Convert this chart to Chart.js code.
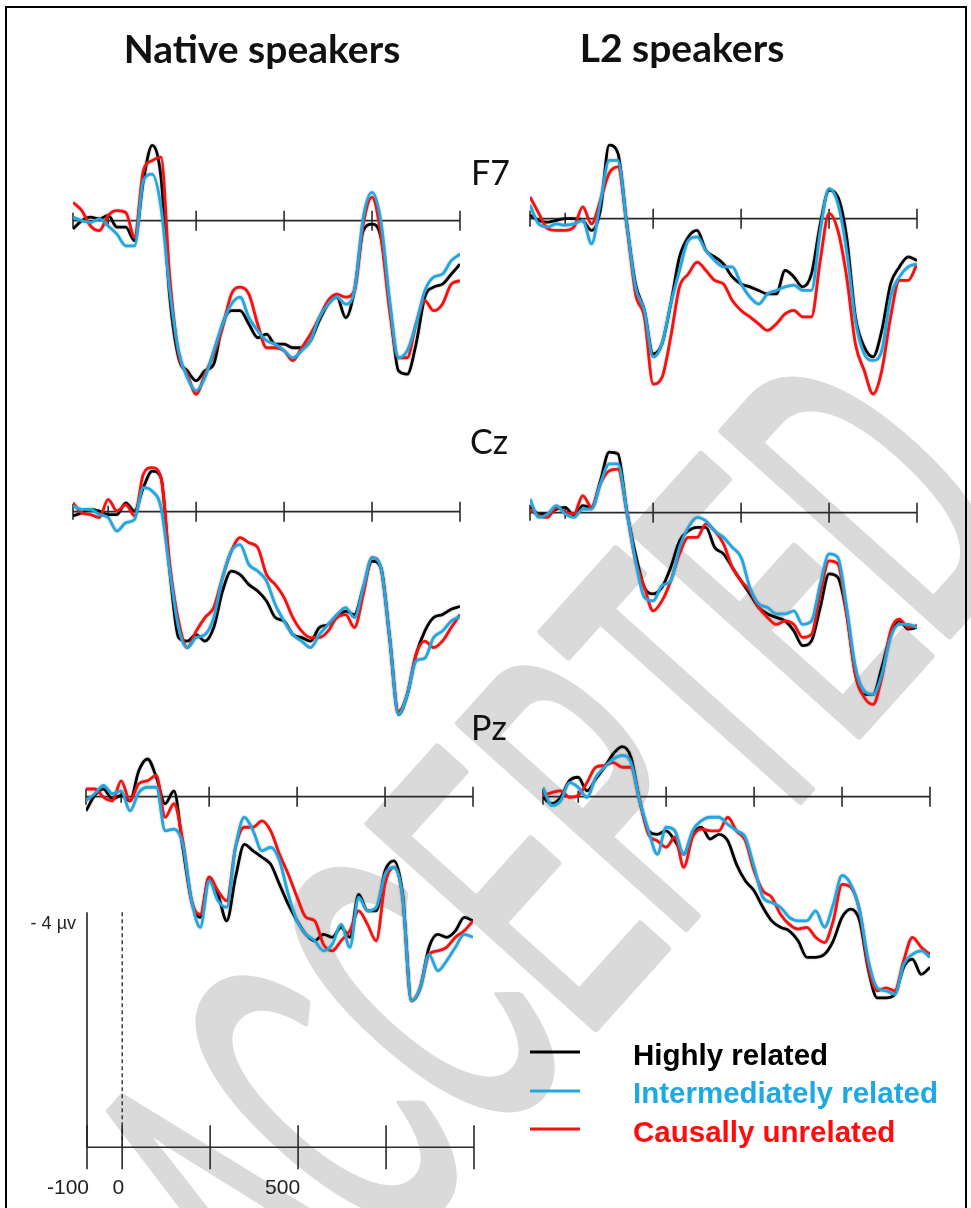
<!DOCTYPE html>
<html>
<head>
<meta charset="utf-8">
<script src="https://cdn.jsdelivr.net/npm/chart.js@4.4.1/dist/chart.umd.min.js"></script>
<style>
  html, body { margin: 0; padding: 0; background: #fff; }
  #page { position: relative; width: 971px; height: 1208px; overflow: hidden; background: #fff; }
  #frame { position: absolute; left: 5px; top: 6px; width: 962px; height: 1220px; border: 2px solid #000; box-sizing: border-box; z-index: 4; }
  svg.layer { position: absolute; left: 0; top: 0; }
  #mark { z-index: 0; }
  #labels { z-index: 3; }
  canvas { position: absolute; z-index: 2; }
  .ttl { font-family: Lato, sans-serif; font-weight: 700; font-size: 39px; fill: #111; }
  .elec { font-family: Lato, sans-serif; font-size: 34px; fill: #111; }
  .leg { font-family: "Liberation Sans", Arial, sans-serif; font-weight: 700; font-size: 29.5px; }
</style>
</head>
<body>
<div id="page">
  <svg id="mark" class="layer" width="971" height="1208">
    <text transform="translate(548,843) rotate(-48) scale(0.46,1)" x="0" y="158" text-anchor="middle"
          font-family="Liberation Sans" font-size="440" fill="#dadada" stroke="#dadada" stroke-width="8"
          stroke-linejoin="round" vector-effect="non-scaling-stroke">ACCEPTED</text>
  </svg>
  <svg id="labels" class="layer" width="971" height="1208"></svg>
  <div id="frame"></div>
</div>
<script>
// time points (ms)
const times = [-100, -75, -50, -25, 0, 25, 50, 75, 100, 125, 150, 175, 200, 225, 250, 275, 300, 325, 350, 375,
  400, 425, 450, 475, 500, 525, 550, 575, 600, 625, 650, 675, 700, 725, 750, 775, 800, 825, 850, 875,
  900, 925, 950, 975, 1000];

// amplitudes in microvolts (negative plotted up)
const nativeF7Highly = [0.14, 0, -0.06, -0.03, -0.09, 0.11, 0.11, 0.34, -0.68, -1.28, -0.74, 1.30, 2.33, 2.55, 2.72, 2.55, 2.44, 1.76, 1.53, 1.53, 1.76, 1.99, 1.93, 2.10, 2.10, 2.16, 2.16, 2.04, 1.70, 1.42, 1.30, 1.65, 1.19, 0.17, 0.06, 0.28, 1.42, 2.55, 2.61, 2.10, 1.30, 1.13, 1.08, 0.91, 0.74];
const nativeF7Inter = [-0.06, 0, 0.03, -0.03, 0.09, 0.23, 0.43, 0.43, -0.68, -0.79, -0.23, 1.19, 2.21, 2.67, 2.89, 2.67, 2.21, 1.76, 1.42, 1.30, 1.65, 1.87, 2.04, 2.10, 2.21, 2.33, 2.21, 2.04, 1.65, 1.42, 1.30, 1.42, 1.19, -0.06, -0.48, 0, 1.36, 2.33, 2.21, 1.76, 1.19, 0.96, 0.91, 0.68, 0.57];
const nativeF7Causal = [-0.31, -0.17, 0.09, 0.17, -0.09, -0.17, -0.14, 0.28, -0.85, -1.02, -1.08, 0.96, 2.27, 2.61, 2.95, 2.61, 2.27, 1.82, 1.25, 1.13, 1.25, 1.76, 2.16, 2.16, 2.21, 2.38, 2.16, 1.93, 1.65, 1.36, 1.25, 1.30, 1.19, 0.06, -0.40, 0.23, 1.53, 2.33, 2.33, 1.76, 1.36, 1.53, 1.42, 1.08, 1.02];

const l2F7Highly = [-0.06, 0.03, 0.06, 0.03, 0, 0, 0.03, 0.20, -0.14, -1.25, -1.11, 0.09, 1.11, 1.56, 2.30, 2.13, 1.45, 0.65, 0.31, 0.20, 0.54, 0.65, 0.77, 0.99, 1.11, 1.16, 1.22, 1.28, 1.28, 0.88, 0.99, 1.16, 0.94, 0.09, -0.48, -0.37, 0.31, 1.67, 2.18, 2.35, 1.90, 1.11, 0.82, 0.65, 0.71];
const l2F7Inter = [-0.23, 0.09, 0.14, 0.09, 0.11, 0.09, 0.03, 0.43, -0.28, -0.99, -0.99, 0.09, 1.16, 1.56, 2.35, 2.13, 1.45, 0.88, 0.37, 0.31, 0.54, 0.71, 0.82, 0.82, 1.11, 1.33, 1.45, 1.28, 1.22, 1.16, 1.13, 1.22, 1.22, 0.20, -0.51, -0.26, 0.54, 1.73, 2.30, 2.41, 2.24, 1.33, 0.99, 0.82, 0.77];
const l2F7Causal = [-0.37, -0.09, 0.17, 0.20, 0.20, 0.14, -0.20, 0.09, -0.31, -0.77, -0.88, 0.09, 1.28, 1.67, 2.81, 2.70, 2.01, 1.16, 0.94, 0.74, 0.88, 1.05, 1.11, 1.39, 1.56, 1.67, 1.79, 1.90, 1.79, 1.62, 1.56, 1.67, 1.67, 0.71, -0.09, 0.20, 0.99, 2.13, 2.58, 2.98, 2.58, 1.67, 1.05, 1.05, 0.77];

const nativeCzHighly = [0.07, 0.02, -0.04, -0.01, 0.05, 0.05, -0.15, -0.01, -0.41, -0.69, -0.58, 1.01, 2.14, 2.20, 2.09, 2.20, 1.97, 1.35, 1.01, 1.07, 1.24, 1.35, 1.52, 1.80, 1.86, 2.09, 2.14, 2.20, 1.97, 1.92, 1.80, 1.69, 1.75, 1.29, 0.84, 0.95, 2.14, 3.45, 3.11, 2.43, 2.03, 1.80, 1.75, 1.66, 1.61];
const nativeCzInter = [-0.10, -0.04, -0.04, 0.05, 0.10, 0.33, 0.19, 0.13, -0.41, -0.35, -0.07, 1.01, 1.97, 2.31, 2.14, 2.09, 1.80, 1.12, 0.67, 0.56, 0.90, 1.01, 1.18, 1.58, 1.86, 2.09, 2.20, 2.31, 2.09, 1.92, 1.75, 1.63, 1.80, 1.29, 0.78, 0.95, 2.14, 3.45, 3.11, 2.54, 2.49, 2.14, 2.03, 1.86, 1.78];
const nativeCzCausal = [-0.15, 0.02, 0.05, 0.10, -0.21, -0.01, -0.12, 0.07, -0.64, -0.75, -0.58, 0.90, 1.86, 2.31, 2.03, 1.80, 1.63, 1.12, 0.67, 0.44, 0.53, 0.61, 1.07, 1.24, 1.46, 1.80, 2.03, 2.14, 2.14, 2.03, 1.80, 1.75, 1.97, 1.41, 0.78, 0.95, 2.14, 3.39, 3.11, 2.43, 2.20, 2.31, 2.20, 1.97, 1.75];

const l2CzHighly = [-0.09, 0.02, 0.02, -0.06, -0.09, 0.05, -0.12, -0.09, -0.54, -1.03, -1.00, -0.03, 0.70, 1.27, 1.38, 1.27, 0.93, 0.48, 0.31, 0.25, 0.25, 0.59, 0.70, 0.93, 1.16, 1.38, 1.61, 1.72, 1.78, 1.84, 2.01, 2.26, 2.18, 1.61, 1.04, 1.10, 1.72, 2.75, 3.09, 3.09, 2.63, 2.07, 1.84, 1.98, 1.95];
const l2CzInter = [-0.23, 0.08, 0.02, -0.12, 0.02, 0.08, -0.06, -0.06, -0.49, -0.83, -0.83, -0.03, 0.82, 1.44, 1.50, 1.24, 1.16, 0.59, 0.25, 0.08, 0.14, 0.31, 0.42, 0.59, 0.76, 1.27, 1.55, 1.61, 1.72, 1.72, 1.67, 1.90, 1.84, 1.21, 0.70, 0.76, 1.61, 2.63, 3.03, 3.09, 2.75, 2.12, 1.90, 1.90, 1.95];
const l2CzCausal = [-0.06, 0.05, 0.08, -0.09, -0.01, 0.02, -0.29, -0.09, -0.49, -0.71, -0.74, -0.03, 0.82, 1.27, 1.67, 1.50, 1.16, 0.70, 0.42, 0.42, 0.19, 0.31, 0.53, 0.93, 1.16, 1.33, 1.61, 1.78, 1.90, 1.84, 1.90, 2.12, 2.07, 1.38, 0.82, 0.87, 1.72, 2.75, 3.14, 3.26, 2.80, 2.01, 1.81, 1.95, 1.92];

const nativePzHighly = [0.24, -0.02, -0.13, 0.04, -0.02, 0.07, -0.44, -0.64, -0.33, 0.12, -0.10, 0.86, 1.77, 2.05, 1.37, 1.66, 2.11, 1.37, 0.81, 0.92, 1.03, 1.15, 1.49, 1.83, 2.11, 2.34, 2.45, 2.34, 2.39, 2.22, 2.39, 1.66, 1.94, 1.94, 1.26, 1.09, 1.66, 3.47, 3.25, 2.56, 2.34, 2.39, 2.28, 2.05, 2.11];
const nativePzInter = [0.07, -0.05, -0.19, -0.05, -0.10, 0.24, -0.07, -0.16, -0.16, 0.58, 0.55, 0.81, 1.77, 2.22, 1.43, 1.77, 1.88, 0.86, 0.35, 0.58, 0.92, 0.86, 1.09, 1.66, 2.11, 2.34, 2.45, 2.62, 2.51, 2.17, 2.56, 1.71, 1.94, 1.88, 1.32, 1.20, 1.71, 3.47, 3.25, 2.68, 2.96, 2.79, 2.56, 2.34, 2.39];
const nativePzCausal = [-0.13, -0.13, 0.01, 0.07, -0.27, 0.07, -0.22, -0.27, -0.36, 0.35, 0.12, 0.75, 1.77, 2.00, 1.37, 1.60, 1.77, 0.86, 0.52, 0.52, 0.41, 0.58, 0.98, 1.32, 1.71, 2.05, 2.11, 2.51, 2.62, 2.45, 2.28, 1.94, 2.17, 2.45, 1.48, 1.20, 1.71, 3.47, 3.25, 2.68, 2.62, 2.56, 2.39, 2.28, 2.11];

const l2PzHighly = [0.01, 0.12, 0.01, -0.27, -0.33, -0.10, -0.30, -0.50, -0.73, -0.85, -0.67, 0.07, 0.58, 0.64, 0.58, 0.75, 0.98, 0.64, 0.52, 0.72, 0.64, 0.75, 1.15, 1.43, 1.60, 1.88, 2.11, 2.22, 2.28, 2.45, 2.73, 2.73, 2.68, 2.45, 2.05, 1.91, 2.11, 2.95, 3.42, 3.42, 3.36, 2.90, 2.76, 3.02, 2.90];
const l2PzInter = [-0.16, 0.15, 0.07, -0.24, -0.16, 0.01, -0.33, -0.50, -0.64, -0.70, -0.58, 0.07, 0.58, 0.98, 0.52, 0.58, 0.98, 0.58, 0.41, 0.35, 0.35, 0.47, 0.58, 0.69, 1.19, 1.71, 1.80, 1.88, 2.05, 2.11, 2.11, 1.94, 2.22, 1.83, 1.34, 1.49, 1.94, 2.79, 3.25, 3.30, 3.36, 2.85, 2.68, 2.62, 2.73];
const l2PzCausal = [-0.02, -0.07, -0.10, 0.01, -0.02, -0.24, -0.50, -0.53, -0.58, -0.50, -0.50, 0.07, 0.64, 0.75, 0.86, 0.69, 1.20, 0.69, 0.55, 0.58, 0.58, 0.35, 0.58, 0.75, 1.26, 1.60, 1.71, 2.00, 2.17, 2.25, 2.22, 2.39, 2.48, 2.11, 1.49, 1.54, 1.94, 2.90, 3.30, 3.25, 3.30, 2.79, 2.39, 2.56, 2.68];

const axisTicks = [-100, 0, 250, 500, 750, 1000];
const conditions = ['Highly related', 'Intermediately related', 'Causally unrelated'];
const groups = ['Native speakers', 'L2 speakers'];
const electrodes = ['F7', 'Cz', 'Pz'];
const scaleLabels = ['-100', '0', '500'];
const scaleLabelTimes = [-100, 0, 500];
const scaleAmp = -4;
const scaleAmpLabel = '- 4 \u00b5v';

const colors = ['#000000', '#1ea9e4', '#ff0d0d'];
const PX_PER_UV = 58.75;
const PAD = 6;
const AREA_W = 387;

// baseline with tick marks, drawn under the traces
const zeroAxis = {
  id: 'zeroAxis',
  beforeDatasetsDraw(chart, args, o) {
    const { ctx, scales: { x, y } } = chart;
    const y0 = y.getPixelForValue(0);
    ctx.save();
    ctx.strokeStyle = '#2a2a2a';
    ctx.lineWidth = 1.6;
    ctx.beginPath();
    ctx.moveTo(x.getPixelForValue(x.min), y0);
    ctx.lineTo(x.getPixelForValue(x.max), y0);
    o.ticks.forEach((t, i) => {
      const px = x.getPixelForValue(t);
      ctx.moveTo(px, y0 - o.len[i]);
      ctx.lineTo(px, y0 + o.len[i]);
    });
    ctx.stroke();
    ctx.restore();
  }
};

// soft grey edge around every trace
const halo = {
  id: 'halo',
  beforeDatasetDraw(chart) {
    const c = chart.ctx;
    c.save();
    c.shadowColor = 'rgba(110,110,110,0.55)';
    c.shadowBlur = 2;
  },
  afterDatasetDraw(chart) { chart.ctx.restore(); }
};

const scaleBar = {
  id: 'scaleBar',
  afterDraw(chart, args, o) {
    const { ctx, scales: { x, y } } = chart;
    const y0 = y.getPixelForValue(0);
    const yTop = y.getPixelForValue(o.amp);
    const xStart = x.getPixelForValue(x.min);
    ctx.save();
    ctx.strokeStyle = '#222';
    ctx.lineWidth = 1.6;
    ctx.beginPath();
    ctx.moveTo(xStart, yTop);
    ctx.lineTo(xStart, y0);
    ctx.stroke();
    ctx.setLineDash([4, 3]);
    ctx.lineWidth = 1.3;
    ctx.beginPath();
    ctx.moveTo(x.getPixelForValue(0), yTop);
    ctx.lineTo(x.getPixelForValue(0), y0);
    ctx.stroke();
    ctx.setLineDash([]);
    ctx.fillStyle = '#222';
    ctx.textAlign = 'right';
    ctx.font = '21px "Liberation Sans", Arial, sans-serif';
    o.labels.forEach((l, i) => ctx.fillText(l, x.getPixelForValue(o.at[i]) + 2, y0 + 47));
    ctx.font = '18px "Liberation Sans", Arial, sans-serif';
    ctx.fillText(o.ampLabel, xStart - 11, yTop + 17);
    ctx.restore();
  }
};

const page = document.getElementById('page');

function makeCanvas(left, top, w, h) {
  const c = document.createElement('canvas');
  c.width = w;
  c.height = h;
  c.style.left = left + 'px';
  c.style.top = top + 'px';
  c.style.width = w + 'px';
  c.style.height = h + 'px';
  page.appendChild(c);
  return c;
}

const panels = [
  { x0: 73.3, base: 220, series: [nativeF7Highly, nativeF7Inter, nativeF7Causal] },
  { x0: 530, base: 218, series: [l2F7Highly, l2F7Inter, l2F7Causal] },
  { x0: 73.3, base: 511, series: [nativeCzHighly, nativeCzInter, nativeCzCausal] },
  { x0: 530, base: 512, series: [l2CzHighly, l2CzInter, l2CzCausal] },
  { x0: 86, base: 796, series: [nativePzHighly, nativePzInter, nativePzCausal] },
  { x0: 543.3, base: 796, series: [l2PzHighly, l2PzInter, l2PzCausal] }
];

const yMin = -2, yMax = 4;

panels.forEach(p => {
  const areaH = (yMax - yMin) * PX_PER_UV;
  const canvas = makeCanvas(Math.round(p.x0 - PAD), Math.round(p.base + yMin * PX_PER_UV - PAD),
    AREA_W + 2 * PAD, Math.round(areaH + 2 * PAD));
  // index 0 is painted last, so the blue trace sits on top
  const order = [1, 2, 0];
  new Chart(canvas, {
    type: 'line',
    data: {
      datasets: order.map(k => ({
        label: conditions[k],
        data: times.map((t, i) => ({ x: t, y: p.series[k][i] })),
        borderColor: colors[k],
        borderWidth: 2.8,
        pointRadius: 0,
        cubicInterpolationMode: 'monotone',
        fill: false
      }))
    },
    options: {
      responsive: false,
      animation: false,
      events: [],
      layout: { padding: PAD },
      plugins: {
        legend: { display: false },
        tooltip: { enabled: false },
        zeroAxis: { ticks: axisTicks, len: [8, 6, 10, 10, 10, 10] }
      },
      scales: {
        x: { type: 'linear', min: -100, max: 1000, display: false },
        y: { type: 'linear', min: yMin, max: yMax, reverse: true, display: false }
      }
    },
    plugins: [zeroAxis, halo]
  });
});

// calibration bars bottom left
{
  const sMin = -4.5, sMax = 1, padLeft = 70;
  const x0 = 86.5, base = 1147;
  const areaH = (sMax - sMin) * PX_PER_UV;
  const canvas = makeCanvas(Math.round(x0 - padLeft), Math.round(base + sMin * PX_PER_UV - PAD),
    AREA_W + padLeft + PAD, Math.round(areaH + 2 * PAD));
  new Chart(canvas, {
    type: 'line',
    data: { datasets: [] },
    options: {
      responsive: false,
      animation: false,
      events: [],
      layout: { padding: { left: padLeft, right: PAD, top: PAD, bottom: PAD } },
      plugins: {
        legend: { display: false },
        tooltip: { enabled: false },
        zeroAxis: { ticks: axisTicks, len: [22, 22, 22, 22, 22, 22] },
        scaleBar: { amp: scaleAmp, ampLabel: scaleAmpLabel, labels: scaleLabels, at: scaleLabelTimes }
      },
      scales: {
        x: { type: 'linear', min: -100, max: 1000, display: false },
        y: { type: 'linear', min: sMin, max: sMax, reverse: true, display: false }
      }
    },
    plugins: [zeroAxis, scaleBar]
  });
}

// titles, electrode names and legend
const NS = 'http://www.w3.org/2000/svg';
const svg = document.getElementById('labels');
function addText(txt, x, y, cls, attrs) {
  const t = document.createElementNS(NS, 'text');
  t.setAttribute('x', x);
  t.setAttribute('y', y);
  t.setAttribute('class', cls);
  Object.entries(attrs || {}).forEach(([k, v]) => t.setAttribute(k, v));
  t.textContent = txt;
  svg.appendChild(t);
}
addText(groups[0], 262, 63, 'ttl', { 'text-anchor': 'middle' });
addText(groups[1], 682, 62, 'ttl', { 'text-anchor': 'middle' });
addText(electrodes[0], 471, 185, 'elec');
addText(electrodes[1], 470, 454, 'elec');
addText(electrodes[2], 471, 740, 'elec');

const legendRows = [1052, 1091, 1129];
const legendBase = [1065, 1103, 1142];
conditions.forEach((c, i) => {
  const ln = document.createElementNS(NS, 'line');
  ln.setAttribute('x1', 530);
  ln.setAttribute('x2', 580);
  ln.setAttribute('y1', legendRows[i]);
  ln.setAttribute('y2', legendRows[i]);
  ln.setAttribute('stroke', colors[i]);
  ln.setAttribute('stroke-width', 3);
  svg.appendChild(ln);
  addText(c, 633, legendBase[i], 'leg', { fill: colors[i] });
});
</script>
</body>
</html>
